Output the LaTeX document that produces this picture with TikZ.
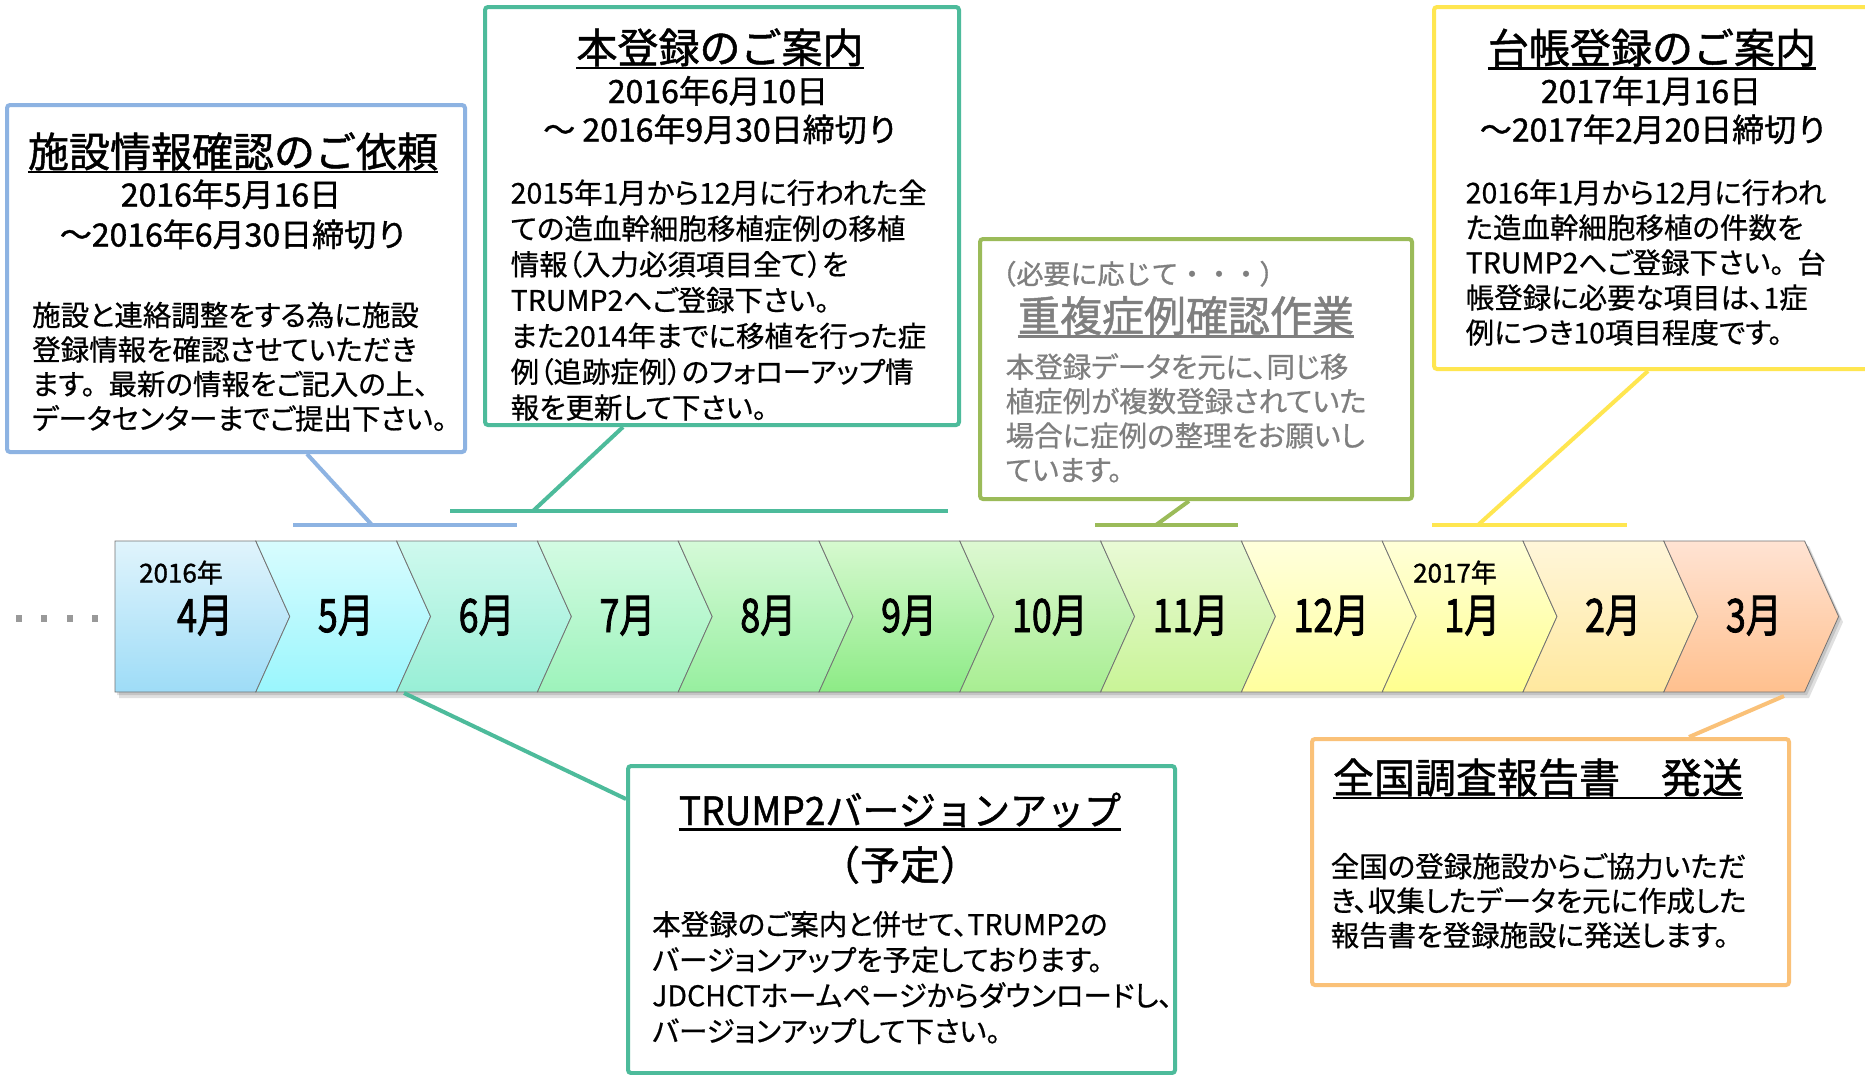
\documentclass[tikz,border=0pt]{standalone}
\usepackage{fontspec}
\usepackage{graphicx}
\setmainfont{Noto Sans CJK JP}
\newfontfamily\jpp{Noto Sans CJK JP}[RawFeature=+palt, FakeBold=0.6]
\newfontfamily\jpm{Noto Sans CJK JP}[FakeBold=1.2]
\newfontfamily\jpmm{Noto Sans CJK JP}[FakeBold=2]
\usetikzlibrary{calc}
\definecolor{cblue}{HTML}{8DB3E2}
\definecolor{cteal}{HTML}{4DBB9B}
\definecolor{cgreen}{HTML}{9BBB59}
\definecolor{cyellow}{HTML}{FFE650}
\definecolor{corange}{HTML}{FAC178}
\definecolor{cgraytxt}{HTML}{7F7F7F}
\begin{document}
\begin{tikzpicture}[x=1pt,y=-1pt,
  box/.style={draw, line width=4pt, fill=white, rounded corners=3pt, inner sep=0pt, anchor=north west},
  conn/.style={line width=4pt},
  ttl/.style={anchor=base, inner sep=0pt, font=\jpm\fontsize{41}{41}\selectfont},
  dt/.style={anchor=base, inner sep=0pt, font=\jpm\fontsize{32}{32}\selectfont},
  bd/.style={anchor=base west, inner sep=0pt, font=\jpp\fontsize{28.5}{35}\selectfont},
  month/.style={anchor=base, inner sep=0pt, font=\jpmm\fontsize{46}{46}\selectfont},
  yr/.style={anchor=base, inner sep=0pt, font=\jpm\fontsize{26}{26}\selectfont},
  uline/.style={line width=2.5pt}]
\useasboundingbox (0,0) rectangle (1865,1074);
\fill[white] (0,0) rectangle (1865,1074);

% ---------- timeline ----------
\fill[black, opacity=0.12] (119,546) -- (1809,546) -- (1843,622) -- (1809,698) -- (119,698) -- cycle;
\fill[black, opacity=0.12] (117,544) -- (1807,544) -- (1841,619) -- (1807,695) -- (117,695) -- cycle;
\foreach \i/\ct/\cb/\m in {0/E0F4FC/9EDCF7/4月, 1/D8FCFE/9AF6FD/5月, 2/CFF9EE/98EFD6/6月,
  3/D3FBE3/9DF3BB/7月, 4/D5FAD8/97EF9F/8月, 5/D6F9CF/8DEB86/9月, 6/DDF8D2/A8EE92/10月,
  7/E9FAD6/C9F497/11月, 8/FFFFDC/FFFF9E/12月, 9/FFFFD8/FFFF8F/1月, 10/FFF6DA/FFE89E/2月,
  11/FFE3D3/FFC08E/3月}{
  \pgfmathsetmacro\xa{115+\i*140.8}
  \pgfmathsetmacro\xb{\xa+140.8}
  \pgfmathsetmacro\dl{ifthenelse(\i==0,0,34)}
  \definecolor{tct}{HTML}{\ct}
  \definecolor{tcb}{HTML}{\cb}
  \shadedraw[top color=tct, bottom color=tcb, draw=black!55, line width=0.8pt]
    (\xa,541) -- (\xb,541) -- (\xb+34,616.5) -- (\xb,692) -- (\xa,692) -- (\xa+\dl,616.5) -- cycle;
  \node[month] (m\i) at (\xa+90,632) {\scalebox{0.78}[1]{\m}};
}
\node[yr] (y16) at (181,582.5) {2016年};
\node[yr] (y17) at (1455,582.5) {2017年};
\foreach \dx in {19,44,70,95} \fill[black!40] (\dx-3,615) rectangle (\dx+3,622);

% ---------- coordinates for connectors ----------
\coordinate (k1) at (372,525);
\coordinate (h1a) at (293,525); \coordinate (h1b) at (517,525);
\coordinate (k2) at (533,511);
\coordinate (h2a) at (450,511); \coordinate (h2b) at (948,511);
\coordinate (k3) at (1156,525);
\coordinate (h3a) at (1095,525); \coordinate (h3b) at (1238,525);
\coordinate (k4) at (1478,525);
\coordinate (h4a) at (1432,525); \coordinate (h4b) at (1627,525);
\coordinate (k5) at (404,693);
\coordinate (k6) at (1784,696);

% ---------- boxes ----------
\node[box, draw=cblue, minimum width=458pt, minimum height=347pt] (b1) at (5,103) {};
\node[box, draw=cteal, minimum width=474pt, minimum height=418pt] (b2) at (483,5) {};
\node[box, draw=cgreen, minimum width=432pt, minimum height=260pt] (b3) at (978,237) {};
\node[box, draw=cyellow, minimum width=442pt, minimum height=362pt] (b4) at (1432,5) {};
\node[box, draw=cteal, minimum width=547pt, minimum height=307pt] (b5) at (626,764) {};
\node[box, draw=corange, minimum width=477pt, minimum height=246pt] (b6) at (1310,737) {};

% ---------- connectors ----------
\draw[conn, cblue] ($(b1.south west)+(302,0)$) -- (k1);
\draw[conn, cblue] (h1a) -- (h1b);
\draw[conn, cteal] ($(b2.south west)+(140,0)$) -- (k2);
\draw[conn, cteal] (h2a) -- (h2b);
\draw[conn, cgreen] ($(b3.south west)+(211,0)$) -- (k3);
\draw[conn, cgreen] (h3a) -- (h3b);
\draw[conn, cyellow] ($(b4.south west)+(216,0)$) -- (k4);
\draw[conn, cyellow] (h4a) -- (h4b);
\draw[conn, cteal] (k5) -- ($(b5.north west)+(0,35)$);
\draw[conn, corange] ($(b6.north west)+(379,0)$) -- (k6);

% ---------- box 1 ----------
\node[ttl] (t1) at (233,167) {施設情報確認のご依頼};
\draw[uline] ([yshift=-5pt]t1.base west) -- ([yshift=-5pt]t1.base east);
\node[dt] (d1a) at (231,206.5) {2016年5月16日};
\node[dt] (d1b) at (234,246.5) {～2016年6月30日締切り};
\foreach \t [count=\k from 0] in {施設と連絡調整をする為に施設, 登録情報を確認させていただき,
  ます。\hspace{0.45em}最新の情報をご記入の上、, データセンターまでご提出下さい。}
  \node[bd] (b1l\k) at (32,325.8+\k*34.5) {\t};

% ---------- box 2 ----------
\node[ttl] (t2) at (720,63) {本登録のご案内};
\draw[uline] ([yshift=-5pt]t2.base west) -- ([yshift=-5pt]t2.base east);
\node[dt] (d2a) at (718,103) {2016年6月10日};
\node[dt] (d2b) at (721,141.5) {～ 2016年9月30日締切り};
\foreach \t [count=\k from 0] in {2015年1月から12月に行われた全, ての造血幹細胞移植症例の移植,
  情報（入力必須項目全て）を, TRUMP2へご登録下さい。, また2014年までに移植を行った症,
  例（追跡症例）のフォローアップ情, 報を更新して下さい。}
  \node[bd] (b2l\k) at (510.5,203.5+\k*35.8) {\t};

% ---------- box 3 ----------
\node[anchor=base, inner sep=0pt, text=cgraytxt, font=\jpm\fontsize{27}{27}\selectfont] (p3) at (1138,284) {（必要に応じて・・・）};
\node[ttl, text=cgraytxt, font=\jpm\fontsize{42}{42}\selectfont] (t3) at (1186,331.5) {重複症例確認作業};
\draw[uline, cgraytxt] ([yshift=-5pt]t3.base west) -- ([yshift=-5pt]t3.base east);
\foreach \t [count=\k from 0] in {本登録データを元に、同じ移, 植症例が複数登録されていた,
  場合に症例の整理をお願いし, ています。}
  \node[bd, text=cgraytxt] (b3l\k) at (1005.5,377.5+\k*34.4) {\t};

% ---------- box 4 ----------
\node[ttl] (t4) at (1652,63.3) {台帳登録のご案内};
\draw[uline] ([yshift=-5pt]t4.base west) -- ([yshift=-5pt]t4.base east);
\node[dt] (d4a) at (1651,103) {2017年1月16日};
\node[dt] (d4b) at (1654,141.5) {～2017年2月20日締切り};
\foreach \t [count=\k from 0] in {2016年1月から12月に行われ, た造血幹細胞移植の件数を,
  TRUMP2へご登録下さい。\hspace{0.45em}台, 帳登録に必要な項目は、1症, 例につき10項目程度です。}
  \node[bd] (b4l\k) at (1465.5,203.3+\k*35) {\t};

% ---------- box 5 ----------
\node[ttl, font=\jpm\fontsize{39}{39}\selectfont] (t5) at (900,825) {\scalebox{0.95}[1]{TRUMP2バージョンアップ}};
\draw[uline] ([yshift=-4.5pt]t5.base west) -- ([yshift=-4.5pt]t5.base east);
\node[ttl, font=\jpm\fontsize{40}{40}\selectfont] (p5) at (900,880) {（予定）};
\foreach \t [count=\k from 0] in {本登録のご案内と併せて、TRUMP2の, バージョンアップを予定しております。,
  JDCHCTホームページからダウンロードし、, バージョンアップして下さい。}
  \node[bd] (b5l\k) at (652,935+\k*35.6) {\t};

% ---------- box 6 ----------
\node[ttl] (t6) at (1538,793) {全国調査報告書　発送};
\draw[uline] ([yshift=-5pt]t6.base west) -- ([yshift=-5pt]t6.base east);
\foreach \t [count=\k from 0] in {全国の登録施設からご協力いただ, き、収集したデータを元に作成した,
  報告書を登録施設に発送します。}
  \node[bd] (b6l\k) at (1330.5,877+\k*34.5) {\t};
\end{tikzpicture}
\end{document}
